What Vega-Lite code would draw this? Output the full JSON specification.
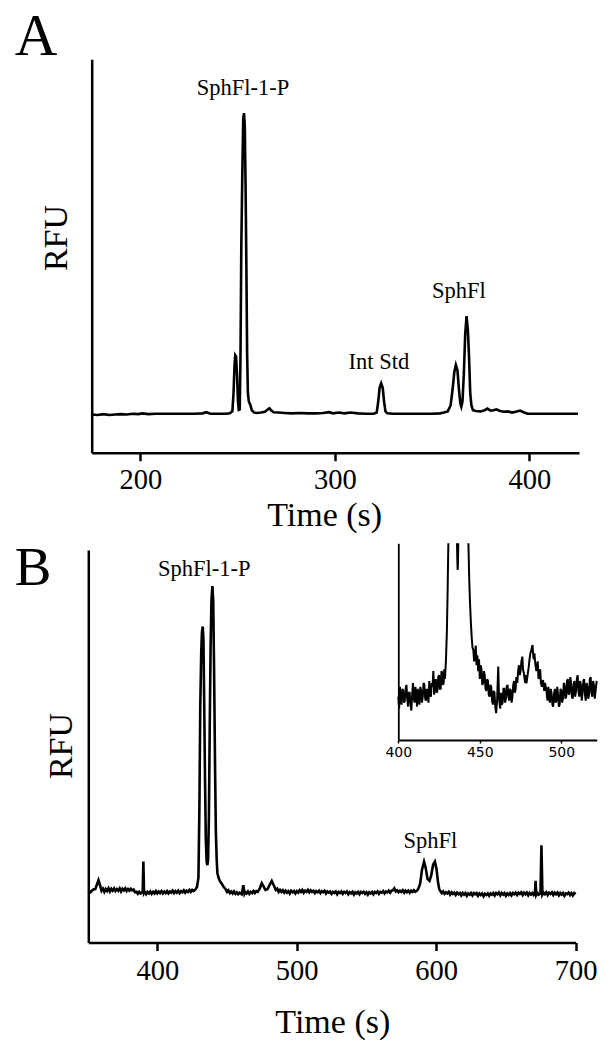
{
  "$schema": "https://vega.github.io/schema/vega-lite/v6.json",
  "width": 613,
  "height": 1048,
  "autosize": "none",
  "padding": 0,
  "background": "white",
  "config": {
    "view": {"stroke": null},
    "axis": {"grid": false, "domainColor": "black", "tickColor": "black", "labelColor": "black", "titleColor": "black", "labelFlush": false, "labelOverlap": false, "labelBound": false}
  },
  "datasets": {
    "traceA": [
      {"time": 175, "rfu": 9.7}, {"time": 178, "rfu": 9.6}, {"time": 181, "rfu": 9.8}, {"time": 184, "rfu": 9.6}, {"time": 187, "rfu": 9.7},
      {"time": 190, "rfu": 9.8}, {"time": 193, "rfu": 9.7}, {"time": 196, "rfu": 9.9}, {"time": 199, "rfu": 9.8}, {"time": 201, "rfu": 10.0},
      {"time": 204, "rfu": 9.8}, {"time": 208, "rfu": 9.9}, {"time": 212, "rfu": 9.9}, {"time": 216, "rfu": 9.9}, {"time": 220, "rfu": 9.9},
      {"time": 224, "rfu": 9.9}, {"time": 228, "rfu": 9.9}, {"time": 232, "rfu": 10.0}, {"time": 234, "rfu": 10.3}, {"time": 236, "rfu": 9.9},
      {"time": 240, "rfu": 9.9}, {"time": 244, "rfu": 9.9}, {"time": 246, "rfu": 10.0}, {"time": 247.3, "rfu": 10.5}, {"time": 247.9, "rfu": 15},
      {"time": 248.4, "rfu": 22}, {"time": 248.8, "rfu": 24.8}, {"time": 249.2, "rfu": 24.5}, {"time": 249.7, "rfu": 20}, {"time": 250.2, "rfu": 13},
      {"time": 250.6, "rfu": 10.9}, {"time": 251.1, "rfu": 11}, {"time": 251.5, "rfu": 25}, {"time": 251.9, "rfu": 52}, {"time": 252.4, "rfu": 70},
      {"time": 252.9, "rfu": 85}, {"time": 253.3, "rfu": 86.3}, {"time": 253.7, "rfu": 83}, {"time": 254.1, "rfu": 68}, {"time": 254.5, "rfu": 48},
      {"time": 254.9, "rfu": 25}, {"time": 255.3, "rfu": 15}, {"time": 255.8, "rfu": 13}, {"time": 256.5, "rfu": 12.2}, {"time": 257.3, "rfu": 10.8},
      {"time": 258.5, "rfu": 10.2}, {"time": 260, "rfu": 10.1}, {"time": 262, "rfu": 10.2}, {"time": 264, "rfu": 10.4}, {"time": 265.5, "rfu": 11.0},
      {"time": 266.3, "rfu": 11.3}, {"time": 267.2, "rfu": 10.8}, {"time": 268.5, "rfu": 10.3}, {"time": 271, "rfu": 10.2}, {"time": 274, "rfu": 10.1},
      {"time": 278, "rfu": 10.0}, {"time": 282, "rfu": 10.1}, {"time": 286, "rfu": 10.0}, {"time": 290, "rfu": 10.0}, {"time": 294, "rfu": 10.1},
      {"time": 297, "rfu": 10.3}, {"time": 299, "rfu": 10.0}, {"time": 302, "rfu": 10.2}, {"time": 305, "rfu": 10.0}, {"time": 308, "rfu": 10.2},
      {"time": 312, "rfu": 10.0}, {"time": 316, "rfu": 9.9}, {"time": 320, "rfu": 9.9}, {"time": 321.5, "rfu": 10.2}, {"time": 322.3, "rfu": 13},
      {"time": 323, "rfu": 16.5}, {"time": 323.8, "rfu": 17.6}, {"time": 324.6, "rfu": 16.5}, {"time": 325.3, "rfu": 13}, {"time": 326, "rfu": 10.5},
      {"time": 327, "rfu": 10.0}, {"time": 330, "rfu": 9.9}, {"time": 335, "rfu": 9.9}, {"time": 340, "rfu": 9.9}, {"time": 345, "rfu": 9.9},
      {"time": 350, "rfu": 9.9}, {"time": 354, "rfu": 10.0}, {"time": 356, "rfu": 10.2}, {"time": 358, "rfu": 10.5}, {"time": 359.5, "rfu": 12},
      {"time": 360.5, "rfu": 16}, {"time": 361.4, "rfu": 20.5}, {"time": 362.2, "rfu": 22.3}, {"time": 363, "rfu": 21}, {"time": 363.8, "rfu": 16},
      {"time": 364.5, "rfu": 12.5}, {"time": 365, "rfu": 11.7}, {"time": 365.6, "rfu": 13}, {"time": 366.3, "rfu": 20}, {"time": 367, "rfu": 30},
      {"time": 367.7, "rfu": 34.7}, {"time": 368.4, "rfu": 31}, {"time": 369, "rfu": 24}, {"time": 369.6, "rfu": 15}, {"time": 370.2, "rfu": 12},
      {"time": 371, "rfu": 10.8}, {"time": 372.5, "rfu": 10.6}, {"time": 375, "rfu": 10.5}, {"time": 377, "rfu": 10.8}, {"time": 378.4, "rfu": 11.2},
      {"time": 380, "rfu": 10.7}, {"time": 381.5, "rfu": 10.8}, {"time": 383, "rfu": 11.0}, {"time": 385, "rfu": 10.6}, {"time": 387, "rfu": 10.4},
      {"time": 389, "rfu": 10.5}, {"time": 391, "rfu": 10.2}, {"time": 393, "rfu": 10.4}, {"time": 395.2, "rfu": 10.7}, {"time": 397, "rfu": 10.3},
      {"time": 399, "rfu": 9.9}, {"time": 402, "rfu": 9.9}, {"time": 405, "rfu": 9.9}, {"time": 410, "rfu": 9.9}, {"time": 415, "rfu": 9.9},
      {"time": 420, "rfu": 9.9}, {"time": 425, "rfu": 9.9}
    ],
    "labelsA": [
      {"time": 252.8, "rfu": 90.9, "label": "SphFl-1-P"},
      {"time": 322.6, "rfu": 21.2, "label": "Int Std"},
      {"time": 363.7, "rfu": 39.4, "label": "SphFl"}
    ],
    "letterA": [{"time": 135.4, "rfu": 101.1, "label": "A"}],
    "traceB": [
      {"time": 350.5, "rfu": 13.2}, {"time": 352, "rfu": 12.8}, {"time": 354, "rfu": 13.5}, {"time": 355.5, "rfu": 13.6}, {"time": 356.5, "rfu": 14.6},
      {"time": 357.8, "rfu": 15.9}, {"time": 359, "rfu": 14.5}, {"time": 360, "rfu": 13.2}, {"time": 361, "rfu": 13.7}, {"time": 362, "rfu": 12.9}, {"time": 363, "rfu": 13.6}, {"time": 364, "rfu": 13.1},
      {"time": 365, "rfu": 13.8}, {"time": 366, "rfu": 13.0}, {"time": 367, "rfu": 13.7}, {"time": 368, "rfu": 13.2}, {"time": 369, "rfu": 13.8}, {"time": 370, "rfu": 13.1}, {"time": 371, "rfu": 13.6}, {"time": 372, "rfu": 13.2},
      {"time": 373, "rfu": 13.8}, {"time": 374, "rfu": 13.0}, {"time": 375, "rfu": 13.7}, {"time": 376, "rfu": 13.3}, {"time": 377, "rfu": 13.8}, {"time": 378, "rfu": 13.1}, {"time": 379, "rfu": 13.6}, {"time": 380, "rfu": 13.2},
      {"time": 381, "rfu": 13.7}, {"time": 382, "rfu": 13.3}, {"time": 383, "rfu": 13.5}, {"time": 384, "rfu": 12.8},
      {"time": 385, "rfu": 12.9}, {"time": 386, "rfu": 12.4}, {"time": 387, "rfu": 12.9}, {"time": 388, "rfu": 12.5}, {"time": 389.5, "rfu": 12.9}, {"time": 390, "rfu": 20.6}, {"time": 390.5, "rfu": 12.6},
      {"time": 391, "rfu": 12.9}, {"time": 392, "rfu": 12.3}, {"time": 393, "rfu": 12.9}, {"time": 394, "rfu": 12.5}, {"time": 395, "rfu": 13.0}, {"time": 396, "rfu": 12.4}, {"time": 397, "rfu": 12.9}, {"time": 398, "rfu": 12.5},
      {"time": 399, "rfu": 13.1}, {"time": 400, "rfu": 12.5}, {"time": 401, "rfu": 13.0}, {"time": 402, "rfu": 12.6}, {"time": 403, "rfu": 13.1}, {"time": 404, "rfu": 12.5}, {"time": 405, "rfu": 13.0}, {"time": 406, "rfu": 12.6},
      {"time": 407, "rfu": 13.1}, {"time": 408, "rfu": 12.5}, {"time": 409, "rfu": 13.0}, {"time": 410, "rfu": 12.7}, {"time": 411, "rfu": 13.2}, {"time": 412, "rfu": 12.6}, {"time": 413, "rfu": 13.1}, {"time": 414, "rfu": 12.7},
      {"time": 415, "rfu": 13.2}, {"time": 416, "rfu": 12.6}, {"time": 417, "rfu": 13.1}, {"time": 418, "rfu": 12.8}, {"time": 419, "rfu": 13.3}, {"time": 420, "rfu": 12.7}, {"time": 421, "rfu": 13.2}, {"time": 422, "rfu": 12.9},
      {"time": 423, "rfu": 13.4}, {"time": 424, "rfu": 12.9}, {"time": 425, "rfu": 13.4}, {"time": 426, "rfu": 13.1}, {"time": 427.5, "rfu": 13.6}, {"time": 428.5, "rfu": 14.2},
      {"time": 429.5, "rfu": 16.5}, {"time": 430.2, "rfu": 35}, {"time": 430.8, "rfu": 60}, {"time": 431.5, "rfu": 74}, {"time": 432.0, "rfu": 79},
      {"time": 432.6, "rfu": 80.5}, {"time": 433.1, "rfu": 77}, {"time": 433.6, "rfu": 62}, {"time": 434.2, "rfu": 42}, {"time": 434.8, "rfu": 26},
      {"time": 435.4, "rfu": 20.5}, {"time": 435.9, "rfu": 19.7}, {"time": 436.4, "rfu": 21}, {"time": 437, "rfu": 32}, {"time": 437.6, "rfu": 55},
      {"time": 438.2, "rfu": 75}, {"time": 438.8, "rfu": 87}, {"time": 439.5, "rfu": 90.8}, {"time": 440.1, "rfu": 87}, {"time": 440.7, "rfu": 70},
      {"time": 441.4, "rfu": 45}, {"time": 442, "rfu": 28}, {"time": 442.6, "rfu": 21}, {"time": 443.1, "rfu": 17.6}, {"time": 444, "rfu": 16.4},
      {"time": 445, "rfu": 15.6}, {"time": 446.2, "rfu": 15}, {"time": 447.5, "rfu": 14.2}, {"time": 449, "rfu": 13.6}, {"time": 450, "rfu": 12.9}, {"time": 451, "rfu": 13.3},
      {"time": 452, "rfu": 12.6}, {"time": 453, "rfu": 13.0}, {"time": 454, "rfu": 12.5}, {"time": 455, "rfu": 13.0}, {"time": 456, "rfu": 12.4}, {"time": 457, "rfu": 12.8}, {"time": 458, "rfu": 12.3}, {"time": 459, "rfu": 12.7}, {"time": 460.5, "rfu": 12.3},
      {"time": 461.7, "rfu": 14.6}, {"time": 462.5, "rfu": 12.5}, {"time": 463, "rfu": 12.9}, {"time": 464, "rfu": 12.5}, {"time": 465, "rfu": 13.0}, {"time": 466, "rfu": 12.4}, {"time": 467, "rfu": 12.9}, {"time": 468, "rfu": 12.6},
      {"time": 469, "rfu": 13.1}, {"time": 470, "rfu": 12.6}, {"time": 471, "rfu": 13.1}, {"time": 472, "rfu": 12.9}, {"time": 473.5, "rfu": 13.8}, {"time": 474.9, "rfu": 15.1}, {"time": 476, "rfu": 14.4},
      {"time": 477.5, "rfu": 13.4}, {"time": 479, "rfu": 13.6}, {"time": 480.5, "rfu": 14.6}, {"time": 482.1, "rfu": 15.7}, {"time": 483.5, "rfu": 14.6},
      {"time": 485, "rfu": 13.4}, {"time": 486, "rfu": 13.7}, {"time": 487, "rfu": 12.9}, {"time": 488, "rfu": 13.4}, {"time": 489, "rfu": 12.9}, {"time": 490, "rfu": 13.3}, {"time": 491, "rfu": 12.7}, {"time": 492, "rfu": 13.2}, {"time": 493, "rfu": 12.7},
      {"time": 494, "rfu": 13.1}, {"time": 495, "rfu": 12.5}, {"time": 496, "rfu": 13.2}, {"time": 497, "rfu": 12.8}, {"time": 498, "rfu": 13.1}, {"time": 499, "rfu": 12.5}, {"time": 500, "rfu": 13.1}, {"time": 501, "rfu": 12.7}, {"time": 502, "rfu": 13.3}, {"time": 503, "rfu": 12.9},
      {"time": 504, "rfu": 13.4}, {"time": 505, "rfu": 12.7}, {"time": 506, "rfu": 13.2}, {"time": 507, "rfu": 12.9}, {"time": 508, "rfu": 13.4}, {"time": 509, "rfu": 12.8}, {"time": 510, "rfu": 13.3}, {"time": 511, "rfu": 12.9}, {"time": 512, "rfu": 13.2}, {"time": 513, "rfu": 12.6},
      {"time": 514, "rfu": 13.1}, {"time": 515, "rfu": 12.8}, {"time": 516, "rfu": 13.2}, {"time": 517, "rfu": 12.6}, {"time": 518, "rfu": 13.1}, {"time": 519, "rfu": 12.8}, {"time": 520, "rfu": 13.2}, {"time": 521, "rfu": 12.5}, {"time": 522, "rfu": 13.0}, {"time": 523, "rfu": 12.7},
      {"time": 524, "rfu": 13.0}, {"time": 525, "rfu": 12.4}, {"time": 526, "rfu": 12.9}, {"time": 527, "rfu": 12.6}, {"time": 528, "rfu": 13.0}, {"time": 529, "rfu": 12.3}, {"time": 530, "rfu": 12.9}, {"time": 531, "rfu": 12.6}, {"time": 532, "rfu": 13.0}, {"time": 533, "rfu": 12.4},
      {"time": 534, "rfu": 12.9}, {"time": 535, "rfu": 12.6}, {"time": 536, "rfu": 13.0}, {"time": 537, "rfu": 12.3}, {"time": 538, "rfu": 12.8}, {"time": 539, "rfu": 12.5}, {"time": 540, "rfu": 12.9}, {"time": 541, "rfu": 12.2}, {"time": 542, "rfu": 12.8}, {"time": 543, "rfu": 12.5},
      {"time": 544, "rfu": 12.9}, {"time": 545, "rfu": 12.3}, {"time": 546, "rfu": 12.9}, {"time": 547, "rfu": 12.6}, {"time": 548, "rfu": 12.9}, {"time": 549, "rfu": 12.4}, {"time": 550, "rfu": 12.8}, {"time": 551, "rfu": 12.2}, {"time": 552, "rfu": 12.8}, {"time": 553, "rfu": 12.5},
      {"time": 554, "rfu": 12.9}, {"time": 555, "rfu": 12.3}, {"time": 556, "rfu": 12.9}, {"time": 557, "rfu": 12.6}, {"time": 558, "rfu": 13.0}, {"time": 559, "rfu": 12.4}, {"time": 560, "rfu": 12.9}, {"time": 561, "rfu": 12.7}, {"time": 562, "rfu": 13.1}, {"time": 563, "rfu": 12.5},
      {"time": 564, "rfu": 13.0}, {"time": 565, "rfu": 12.8}, {"time": 566, "rfu": 13.2}, {"time": 567, "rfu": 12.7}, {"time": 568, "rfu": 13.2}, {"time": 569, "rfu": 13.3}, {"time": 570, "rfu": 13.8}, {"time": 571, "rfu": 13.0},
      {"time": 572, "rfu": 13.3}, {"time": 573, "rfu": 12.8}, {"time": 574, "rfu": 13.2}, {"time": 575, "rfu": 12.9}, {"time": 576, "rfu": 13.3}, {"time": 577, "rfu": 12.7}, {"time": 578, "rfu": 13.2}, {"time": 579, "rfu": 12.8}, {"time": 580, "rfu": 13.2}, {"time": 581, "rfu": 12.7},
      {"time": 582, "rfu": 13.2}, {"time": 583, "rfu": 12.9}, {"time": 584, "rfu": 13.3}, {"time": 585, "rfu": 12.9}, {"time": 586.3, "rfu": 13.2}, {"time": 587.3, "rfu": 13.8}, {"time": 588.5, "rfu": 15},
      {"time": 589.8, "rfu": 18.5}, {"time": 591.3, "rfu": 20.6}, {"time": 592.5, "rfu": 19}, {"time": 593.8, "rfu": 16.2}, {"time": 595.2, "rfu": 15.7},
      {"time": 596.4, "rfu": 17}, {"time": 597.8, "rfu": 19.8}, {"time": 599.1, "rfu": 20.6}, {"time": 600.3, "rfu": 18.6}, {"time": 601.3, "rfu": 15.4},
      {"time": 602.2, "rfu": 13.6}, {"time": 603, "rfu": 13.1}, {"time": 604, "rfu": 12.6}, {"time": 605, "rfu": 13.0}, {"time": 606, "rfu": 12.4}, {"time": 607, "rfu": 12.8}, {"time": 608, "rfu": 12.5}, {"time": 609, "rfu": 12.9}, {"time": 610, "rfu": 12.2},
      {"time": 611, "rfu": 12.8}, {"time": 612, "rfu": 12.4}, {"time": 613, "rfu": 12.7}, {"time": 614, "rfu": 12.1}, {"time": 615, "rfu": 12.7}, {"time": 616, "rfu": 12.3}, {"time": 617, "rfu": 12.6}, {"time": 618, "rfu": 12.0}, {"time": 619, "rfu": 12.6}, {"time": 620, "rfu": 12.2},
      {"time": 621, "rfu": 12.6}, {"time": 622, "rfu": 11.9}, {"time": 623, "rfu": 12.5}, {"time": 624, "rfu": 12.2}, {"time": 625, "rfu": 12.6}, {"time": 626, "rfu": 12.0}, {"time": 627, "rfu": 12.6}, {"time": 628, "rfu": 12.3}, {"time": 629, "rfu": 12.6}, {"time": 630, "rfu": 11.9},
      {"time": 631, "rfu": 12.5}, {"time": 632, "rfu": 12.1}, {"time": 633, "rfu": 12.5}, {"time": 634, "rfu": 11.8}, {"time": 635, "rfu": 12.4}, {"time": 636, "rfu": 12.1}, {"time": 637, "rfu": 12.5}, {"time": 638, "rfu": 11.9}, {"time": 639, "rfu": 12.5}, {"time": 640, "rfu": 12.2},
      {"time": 641, "rfu": 12.6}, {"time": 642, "rfu": 12.0}, {"time": 643, "rfu": 12.6}, {"time": 644, "rfu": 12.3}, {"time": 645, "rfu": 12.7}, {"time": 646, "rfu": 12.0}, {"time": 647, "rfu": 12.6}, {"time": 648, "rfu": 12.2}, {"time": 649, "rfu": 12.6}, {"time": 650, "rfu": 11.9},
      {"time": 651, "rfu": 12.5}, {"time": 652, "rfu": 12.1}, {"time": 653, "rfu": 12.6}, {"time": 654, "rfu": 12.0}, {"time": 655, "rfu": 12.6}, {"time": 656, "rfu": 12.3}, {"time": 657, "rfu": 12.7}, {"time": 658, "rfu": 12.1}, {"time": 659, "rfu": 12.7}, {"time": 660, "rfu": 12.4},
      {"time": 661, "rfu": 12.8}, {"time": 662, "rfu": 12.1}, {"time": 663, "rfu": 12.7}, {"time": 664, "rfu": 12.3}, {"time": 665, "rfu": 12.7}, {"time": 666, "rfu": 12.0}, {"time": 667, "rfu": 12.6}, {"time": 668, "rfu": 12.2}, {"time": 669, "rfu": 12.6}, {"time": 670, "rfu": 12.1},
      {"time": 670.8, "rfu": 12.5}, {"time": 671.3, "rfu": 15.7}, {"time": 671.8, "rfu": 12.2}, {"time": 672.5, "rfu": 12.7}, {"time": 673.5, "rfu": 12.2}, {"time": 674.8, "rfu": 12.5},
      {"time": 675.5, "rfu": 24.8}, {"time": 676.2, "rfu": 12.2}, {"time": 677, "rfu": 12.7}, {"time": 678, "rfu": 12.3}, {"time": 679, "rfu": 12.8}, {"time": 680, "rfu": 12.1}, {"time": 681, "rfu": 12.7}, {"time": 682, "rfu": 12.4},
      {"time": 683, "rfu": 12.8}, {"time": 684, "rfu": 12.1}, {"time": 685, "rfu": 12.7}, {"time": 686, "rfu": 12.3}, {"time": 687, "rfu": 12.7}, {"time": 688, "rfu": 12.0}, {"time": 689, "rfu": 12.6}, {"time": 690, "rfu": 12.2},
      {"time": 691, "rfu": 12.6}, {"time": 692, "rfu": 11.9}, {"time": 693, "rfu": 12.5}, {"time": 694, "rfu": 12.3}, {"time": 695, "rfu": 12.7}, {"time": 696, "rfu": 12.1}, {"time": 697, "rfu": 12.6}, {"time": 698, "rfu": 12.0}, {"time": 699, "rfu": 12.6}, {"time": 700, "rfu": 12.3}
    ],
    "labelsB": [
      {"time": 433.7, "rfu": 93.5, "label": "SphFl-1-P"},
      {"time": 595.8, "rfu": 24.1, "label": "SphFl"}
    ],
    "letterB": [{"time": 297.7, "rfu": 91.1, "label": "B"}],
    "inset": [
      {"time": 400, "rfu": 22, "seg": 1}, {"time": 400.5, "rfu": 16, "seg": 1}, {"time": 401, "rfu": 27, "seg": 1}, {"time": 401.5, "rfu": 20, "seg": 1}, {"time": 402, "rfu": 18, "seg": 1}, {"time": 402.5, "rfu": 26, "seg": 1}, {"time": 403, "rfu": 25, "seg": 1},
      {"time": 403.5, "rfu": 19, "seg": 1}, {"time": 404, "rfu": 20, "seg": 1}, {"time": 404.5, "rfu": 26, "seg": 1}, {"time": 405, "rfu": 28, "seg": 1}, {"time": 405.5, "rfu": 21, "seg": 1}, {"time": 406, "rfu": 17, "seg": 1}, {"time": 406.5, "rfu": 24, "seg": 1}, {"time": 407, "rfu": 24, "seg": 1},
      {"time": 407.5, "rfu": 18, "seg": 1}, {"time": 408, "rfu": 15, "seg": 1}, {"time": 408.5, "rfu": 23, "seg": 1}, {"time": 409, "rfu": 29, "seg": 1}, {"time": 409.5, "rfu": 21, "seg": 1}, {"time": 410, "rfu": 19, "seg": 1}, {"time": 410.5, "rfu": 27, "seg": 1}, {"time": 411, "rfu": 23, "seg": 1},
      {"time": 411.5, "rfu": 17, "seg": 1}, {"time": 412, "rfu": 26, "seg": 1}, {"time": 412.5, "rfu": 22, "seg": 1}, {"time": 413, "rfu": 18, "seg": 1}, {"time": 413.5, "rfu": 27, "seg": 1}, {"time": 414, "rfu": 25, "seg": 1}, {"time": 414.5, "rfu": 19, "seg": 1}, {"time": 415, "rfu": 22, "seg": 1},
      {"time": 415.5, "rfu": 29, "seg": 1}, {"time": 416, "rfu": 28, "seg": 1}, {"time": 416.5, "rfu": 21, "seg": 1}, {"time": 417, "rfu": 20, "seg": 1}, {"time": 417.5, "rfu": 26, "seg": 1}, {"time": 418, "rfu": 24, "seg": 1}, {"time": 418.5, "rfu": 19, "seg": 1}, {"time": 419, "rfu": 30, "seg": 1},
      {"time": 419.5, "rfu": 24, "seg": 1}, {"time": 420, "rfu": 22, "seg": 1}, {"time": 420.5, "rfu": 29, "seg": 1}, {"time": 421, "rfu": 27, "seg": 1}, {"time": 421.5, "rfu": 35, "seg": 1}, {"time": 422, "rfu": 23, "seg": 1},
      {"time": 422.5, "rfu": 28, "seg": 1}, {"time": 423, "rfu": 31, "seg": 1}, {"time": 423.5, "rfu": 24, "seg": 1}, {"time": 424, "rfu": 25, "seg": 1}, {"time": 424.5, "rfu": 32, "seg": 1}, {"time": 425, "rfu": 33, "seg": 1}, {"time": 425.5, "rfu": 26, "seg": 1}, {"time": 426, "rfu": 26, "seg": 1},
      {"time": 426.5, "rfu": 35, "seg": 1}, {"time": 427, "rfu": 34, "seg": 1}, {"time": 427.4, "rfu": 28, "seg": 1}, {"time": 427.8, "rfu": 29, "seg": 1}, {"time": 428.2, "rfu": 36, "seg": 1}, {"time": 428.6, "rfu": 31, "seg": 1}, {"time": 429.2, "rfu": 40, "seg": 1},
      {"time": 429.8, "rfu": 55, "seg": 1}, {"time": 430.3, "rfu": 78, "seg": 1}, {"time": 430.7, "rfu": 100, "seg": 1},
      {"time": 436.0, "rfu": 100, "seg": 2}, {"time": 436.2, "rfu": 92, "seg": 2}, {"time": 436.4, "rfu": 86.4, "seg": 2}, {"time": 436.6, "rfu": 90, "seg": 2}, {"time": 436.8, "rfu": 100, "seg": 2},
      {"time": 443, "rfu": 100, "seg": 3}, {"time": 443.5, "rfu": 82, "seg": 3}, {"time": 444, "rfu": 69.5, "seg": 3}, {"time": 444.5, "rfu": 60, "seg": 3},
      {"time": 445, "rfu": 52.5, "seg": 3}, {"time": 445.5, "rfu": 47, "seg": 3}, {"time": 446, "rfu": 46, "seg": 3}, {"time": 446.5, "rfu": 40, "seg": 3}, {"time": 447, "rfu": 42.4, "seg": 3}, {"time": 447.5, "rfu": 48, "seg": 3},
      {"time": 448, "rfu": 38, "seg": 3}, {"time": 448.5, "rfu": 43, "seg": 3}, {"time": 449, "rfu": 35, "seg": 3}, {"time": 449.5, "rfu": 41, "seg": 3}, {"time": 450, "rfu": 31, "seg": 3}, {"time": 450.5, "rfu": 38, "seg": 3},
      {"time": 451, "rfu": 36, "seg": 3}, {"time": 451.5, "rfu": 28, "seg": 3}, {"time": 452, "rfu": 29, "seg": 3}, {"time": 452.5, "rfu": 35, "seg": 3}, {"time": 453, "rfu": 33, "seg": 3}, {"time": 453.5, "rfu": 26, "seg": 3}, {"time": 454, "rfu": 25, "seg": 3},
      {"time": 454.5, "rfu": 31, "seg": 3}, {"time": 455, "rfu": 30, "seg": 3}, {"time": 455.5, "rfu": 23, "seg": 3}, {"time": 456, "rfu": 22, "seg": 3}, {"time": 456.5, "rfu": 28, "seg": 3}, {"time": 457, "rfu": 27, "seg": 3}, {"time": 457.5, "rfu": 20, "seg": 3}, {"time": 458, "rfu": 18, "seg": 3},
      {"time": 458.5, "rfu": 25, "seg": 3}, {"time": 459, "rfu": 24, "seg": 3}, {"time": 459.5, "rfu": 17, "seg": 3}, {"time": 460, "rfu": 13.6, "seg": 3}, {"time": 460.6, "rfu": 20, "seg": 3}, {"time": 461.3, "rfu": 37.3, "seg": 3},
      {"time": 461.8, "rfu": 21, "seg": 3}, {"time": 462.5, "rfu": 16, "seg": 3}, {"time": 463, "rfu": 24, "seg": 3}, {"time": 463.5, "rfu": 18, "seg": 3}, {"time": 464, "rfu": 19, "seg": 3}, {"time": 464.5, "rfu": 26, "seg": 3},
      {"time": 465, "rfu": 26, "seg": 3}, {"time": 465.5, "rfu": 19, "seg": 3}, {"time": 466, "rfu": 21, "seg": 3}, {"time": 466.5, "rfu": 27, "seg": 3}, {"time": 467, "rfu": 28, "seg": 3}, {"time": 467.5, "rfu": 22, "seg": 3}, {"time": 468, "rfu": 20, "seg": 3},
      {"time": 468.5, "rfu": 26, "seg": 3}, {"time": 469, "rfu": 25, "seg": 3}, {"time": 469.5, "rfu": 19, "seg": 3}, {"time": 470, "rfu": 22, "seg": 3}, {"time": 470.5, "rfu": 28, "seg": 3}, {"time": 471, "rfu": 30, "seg": 3}, {"time": 471.5, "rfu": 24, "seg": 3}, {"time": 472, "rfu": 26, "seg": 3},
      {"time": 472.4, "rfu": 32, "seg": 3}, {"time": 473, "rfu": 29, "seg": 3}, {"time": 473.5, "rfu": 35, "seg": 3}, {"time": 474, "rfu": 38, "seg": 3}, {"time": 474.5, "rfu": 33, "seg": 3}, {"time": 475, "rfu": 35, "seg": 3}, {"time": 475.5, "rfu": 40, "seg": 3},
      {"time": 476.1, "rfu": 42.4, "seg": 3}, {"time": 476.5, "rfu": 36, "seg": 3}, {"time": 477, "rfu": 34, "seg": 3}, {"time": 477.8, "rfu": 29, "seg": 3}, {"time": 478.2, "rfu": 33, "seg": 3}, {"time": 478.6, "rfu": 28.8, "seg": 3},
      {"time": 479.3, "rfu": 33, "seg": 3}, {"time": 480, "rfu": 37, "seg": 3}, {"time": 480.5, "rfu": 41, "seg": 3}, {"time": 481, "rfu": 44, "seg": 3}, {"time": 481.7, "rfu": 46, "seg": 3}, {"time": 482.3, "rfu": 48.3, "seg": 3},
      {"time": 483, "rfu": 41, "seg": 3}, {"time": 483.5, "rfu": 44, "seg": 3}, {"time": 484, "rfu": 39, "seg": 3}, {"time": 484.7, "rfu": 35, "seg": 3}, {"time": 485.5, "rfu": 40, "seg": 3},
      {"time": 486, "rfu": 31, "seg": 3}, {"time": 486.5, "rfu": 34, "seg": 3}, {"time": 487, "rfu": 36, "seg": 3}, {"time": 487.5, "rfu": 29, "seg": 3}, {"time": 488, "rfu": 27, "seg": 3}, {"time": 488.8, "rfu": 30.5, "seg": 3},
      {"time": 489.5, "rfu": 25, "seg": 3}, {"time": 490, "rfu": 29, "seg": 3}, {"time": 490.8, "rfu": 25.4, "seg": 3}, {"time": 491.5, "rfu": 20, "seg": 3}, {"time": 492, "rfu": 27, "seg": 3}, {"time": 492.5, "rfu": 22, "seg": 3},
      {"time": 493, "rfu": 19, "seg": 3}, {"time": 493.5, "rfu": 26, "seg": 3}, {"time": 494, "rfu": 24, "seg": 3}, {"time": 494.5, "rfu": 18, "seg": 3}, {"time": 495, "rfu": 17, "seg": 3}, {"time": 495.5, "rfu": 23, "seg": 3}, {"time": 496, "rfu": 26, "seg": 3},
      {"time": 496.5, "rfu": 19, "seg": 3}, {"time": 497, "rfu": 20, "seg": 3}, {"time": 497.5, "rfu": 27, "seg": 3}, {"time": 498, "rfu": 23, "seg": 3}, {"time": 498.5, "rfu": 17, "seg": 3}, {"time": 499, "rfu": 18, "seg": 3}, {"time": 499.5, "rfu": 26, "seg": 3}, {"time": 500, "rfu": 25, "seg": 3},
      {"time": 500.5, "rfu": 19, "seg": 3}, {"time": 501, "rfu": 21, "seg": 3}, {"time": 501.5, "rfu": 29, "seg": 3}, {"time": 502, "rfu": 28, "seg": 3}, {"time": 502.5, "rfu": 21, "seg": 3}, {"time": 503, "rfu": 22, "seg": 3}, {"time": 503.5, "rfu": 30, "seg": 3}, {"time": 504, "rfu": 31, "seg": 3},
      {"time": 504.5, "rfu": 23, "seg": 3}, {"time": 505, "rfu": 24, "seg": 3}, {"time": 505.5, "rfu": 32, "seg": 3}, {"time": 506, "rfu": 29, "seg": 3}, {"time": 506.5, "rfu": 22, "seg": 3}, {"time": 507, "rfu": 21, "seg": 3}, {"time": 507.5, "rfu": 28, "seg": 3}, {"time": 508, "rfu": 30, "seg": 3},
      {"time": 508.5, "rfu": 22, "seg": 3}, {"time": 509, "rfu": 25, "seg": 3}, {"time": 509.5, "rfu": 31, "seg": 3}, {"time": 510, "rfu": 33, "seg": 3}, {"time": 510.5, "rfu": 25, "seg": 3}, {"time": 511, "rfu": 22, "seg": 3}, {"time": 511.5, "rfu": 30, "seg": 3}, {"time": 512, "rfu": 28, "seg": 3},
      {"time": 512.5, "rfu": 20, "seg": 3}, {"time": 513, "rfu": 24, "seg": 3}, {"time": 513.5, "rfu": 30, "seg": 3}, {"time": 514, "rfu": 31, "seg": 3}, {"time": 514.5, "rfu": 23, "seg": 3}, {"time": 515, "rfu": 20, "seg": 3}, {"time": 515.5, "rfu": 29, "seg": 3}, {"time": 516, "rfu": 27, "seg": 3},
      {"time": 516.5, "rfu": 21, "seg": 3}, {"time": 517, "rfu": 23, "seg": 3}, {"time": 517.5, "rfu": 31, "seg": 3}, {"time": 518, "rfu": 32, "seg": 3}, {"time": 518.5, "rfu": 24, "seg": 3}, {"time": 519, "rfu": 22, "seg": 3}, {"time": 519.5, "rfu": 30, "seg": 3}, {"time": 520, "rfu": 28, "seg": 3},
      {"time": 520.5, "rfu": 21, "seg": 3}, {"time": 521, "rfu": 25, "seg": 3}, {"time": 521.7, "rfu": 30, "seg": 3}
    ]
  },
  "resolve": {"scale": {"x": "independent", "y": "independent"}},
  "layer": [
    {
      "encoding": {
        "x": {
          "field": "time", "type": "quantitative",
          "scale": {"domain": [175, 425.5], "range": [91.7, 579], "nice": false, "zero": false},
          "axis": {
            "orient": "bottom", "offset": -595.3, "values": [200, 300, 400],
            "domainWidth": 2.5, "tickWidth": 2.5, "tickSize": 8,
            "labelFont": "Liberation Serif", "labelFontSize": 28.5, "labelBaseline": "alphabetic", "labelPadding": 27.6,
            "title": "Time (s)", "titleFont": "Liberation Serif", "titleFontSize": 34, "titleFontWeight": "normal",
            "titleBaseline": "alphabetic", "titleAlign": "center", "titleX": 324.2, "titleY": 72.3
          }
        },
        "y": {
          "field": "rfu", "type": "quantitative",
          "scale": {"domain": [0, 100], "range": [452.7, 59.3], "nice": false, "zero": false},
          "axis": {
            "orient": "left", "offset": -91.7, "ticks": false, "labels": false, "domainWidth": 2.5,
            "title": "RFU", "titleFont": "Liberation Serif", "titleFontSize": 34, "titleFontWeight": "normal",
            "titleAngle": -90, "titleBaseline": "alphabetic", "titleAlign": "center", "titleX": -25, "titleY": 237.5
          }
        }
      },
      "layer": [
        {"data": {"name": "traceA"}, "mark": {"type": "line", "color": "black", "strokeWidth": 2.6}},
        {"data": {"name": "labelsA"}, "mark": {"type": "text", "font": "Liberation Serif", "fontSize": 22.5, "align": "center", "baseline": "alphabetic", "color": "black"}, "encoding": {"text": {"field": "label"}}},
        {"data": {"name": "letterA"}, "mark": {"type": "text", "font": "Liberation Serif", "fontSize": 59, "align": "left", "baseline": "alphabetic", "color": "black"}, "encoding": {"text": {"field": "label"}}}
      ]
    },
    {
      "encoding": {
        "x": {
          "field": "time", "type": "quantitative",
          "scale": {"domain": [350.5, 700], "range": [88.3, 575.6], "nice": false, "zero": false},
          "axis": {
            "orient": "bottom", "offset": -105.5, "values": [400, 500, 600, 700],
            "domainWidth": 2.5, "tickWidth": 2.5, "tickSize": 8,
            "labelFont": "Liberation Serif", "labelFontSize": 28.5, "labelBaseline": "alphabetic", "labelPadding": 28.5,
            "title": "Time (s)", "titleFont": "Liberation Serif", "titleFontSize": 34, "titleFontWeight": "normal",
            "titleBaseline": "alphabetic", "titleAlign": "center", "titleX": 332.3, "titleY": 89.5
          }
        },
        "y": {
          "field": "rfu", "type": "quantitative",
          "scale": {"domain": [0, 100], "range": [942.5, 550], "nice": false, "zero": false},
          "axis": {
            "orient": "left", "offset": -88.3, "ticks": false, "labels": false, "domainWidth": 2.5,
            "title": "RFU", "titleFont": "Liberation Serif", "titleFontSize": 34, "titleFontWeight": "normal",
            "titleAngle": -90, "titleBaseline": "alphabetic", "titleAlign": "center", "titleX": -16.6, "titleY": 745.5
          }
        }
      },
      "layer": [
        {"data": {"name": "traceB"}, "mark": {"type": "line", "color": "black", "strokeWidth": 2.6}},
        {"data": {"name": "labelsB"}, "mark": {"type": "text", "font": "Liberation Serif", "fontSize": 22.5, "align": "center", "baseline": "alphabetic", "color": "black"}, "encoding": {"text": {"field": "label"}}},
        {"data": {"name": "letterB"}, "mark": {"type": "text", "font": "Liberation Serif", "fontSize": 55, "align": "left", "baseline": "alphabetic", "color": "black"}, "encoding": {"text": {"field": "label"}}}
      ]
    },
    {
      "data": {"name": "inset"},
      "mark": {"type": "line", "color": "black", "strokeWidth": 2},
      "encoding": {
        "x": {
          "field": "time", "type": "quantitative",
          "scale": {"domain": [400, 521.7], "range": [398.3, 596.7], "nice": false, "zero": false},
          "axis": {
            "orient": "bottom", "offset": -308, "values": [400, 450, 500],
            "domainWidth": 1.8, "tickWidth": 1.5, "tickSize": 3,
            "labelFont": "DejaVu Sans", "labelFontSize": 14, "labelBaseline": "alphabetic", "labelPadding": 13.7,
            "title": null
          }
        },
        "y": {
          "field": "rfu", "type": "quantitative",
          "scale": {"domain": [0, 100], "range": [740, 543.3], "nice": false, "zero": false},
          "axis": {"orient": "left", "offset": -398.3, "ticks": false, "labels": false, "domainWidth": 1.8, "title": null}
        },
        "detail": {"field": "seg", "type": "nominal"}
      }
    }
  ]
}
